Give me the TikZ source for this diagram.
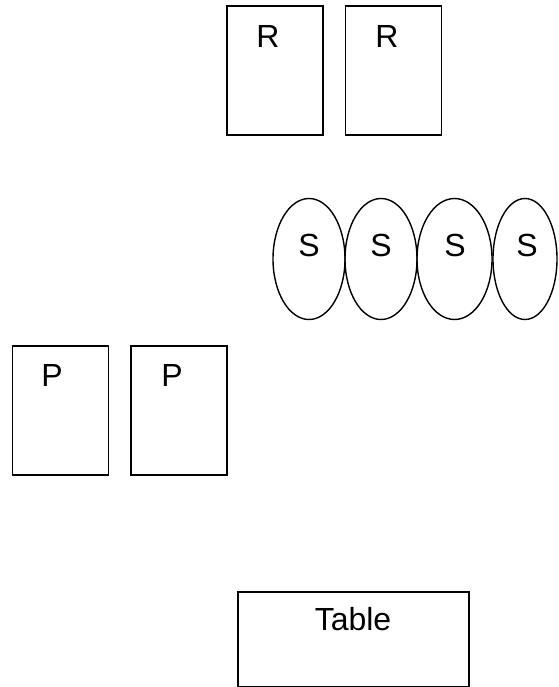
\documentclass[tikz,border=0pt]{standalone}
\usepackage{fontspec}
\setmainfont{Liberation Sans}
\usetikzlibrary{shapes.geometric}
\begin{document}
\begin{tikzpicture}[x=1pt,y=-1pt,
  card/.style={draw,line width=1.6pt,rectangle,inner sep=0pt,minimum width=96pt,minimum height=129pt},
  oval/.style={draw,line width=1.4pt,ellipse,inner sep=0pt,minimum height=121pt},
  lbl/.style={inner sep=0pt,font=\fontsize{32}{32}\selectfont}]
\useasboundingbox (0,0) rectangle (558,687);
\node[card] (r1) at (275,70.5) {};
\node[card] (r2) at (393.5,70.5) {};
\node[lbl] (r1t) at (268,36) {R};
\node[lbl] (r2t) at (387,36) {R};
\node[oval,minimum width=72pt] (s1) at (309,259) {};
\node[oval,minimum width=72pt] (s2) at (381,259) {};
\node[oval,minimum width=75pt] (s3) at (454.5,259) {};
\node[oval,minimum width=64pt] (s4) at (525,259) {};
\node[lbl] (s1t) at (309,245) {S};
\node[lbl] (s2t) at (381,245) {S};
\node[lbl] (s3t) at (455,245) {S};
\node[lbl] (s4t) at (527,245) {S};
\node[card] (p1) at (60.5,410.5) {};
\node[card] (p2) at (179,410.5) {};
\node[lbl] (p1t) at (52,375) {P};
\node[lbl] (p2t) at (172,375) {P};
\node[card,minimum width=231pt,minimum height=95pt] (tb) at (353.5,639.5) {};
\node[lbl] (tbt) at (353,619) {Table};
\end{tikzpicture}
\end{document}
